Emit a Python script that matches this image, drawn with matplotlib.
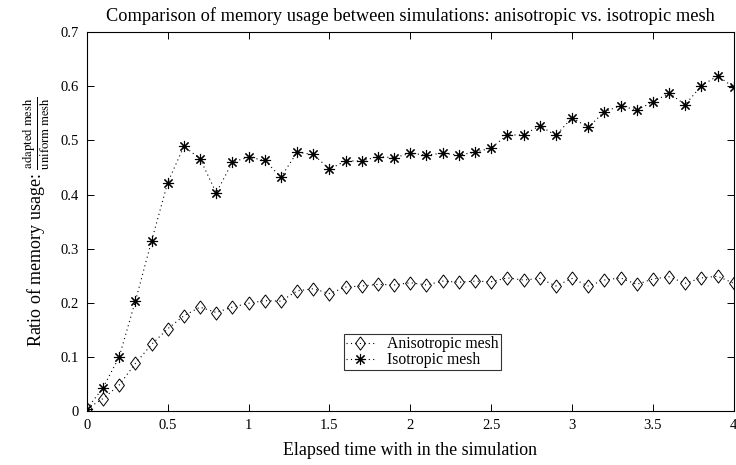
import matplotlib
matplotlib.use("Agg")
import matplotlib.pyplot as plt
import numpy as np

plt.rcParams['font.family'] = ['Liberation Serif', 'DejaVu Serif']
plt.rcParams['mathtext.fontset'] = 'stix'

time = [0.0, 0.1, 0.2, 0.3, 0.4, 0.5, 0.6, 0.7, 0.8, 0.9, 1.0, 1.1, 1.2, 1.3, 1.4,
        1.5, 1.6, 1.7, 1.8, 1.9, 2.0, 2.1, 2.2, 2.3, 2.4, 2.5, 2.6, 2.7, 2.8, 2.9,
        3.0, 3.1, 3.2, 3.3, 3.4, 3.5, 3.6, 3.7, 3.8, 3.9, 4.0]

anisotropic = [0.004, 0.023, 0.048, 0.088, 0.123, 0.152, 0.176, 0.192, 0.182, 0.192,
               0.199, 0.204, 0.203, 0.222, 0.226, 0.217, 0.229, 0.231, 0.234, 0.233,
               0.237, 0.233, 0.240, 0.238, 0.240, 0.239, 0.246, 0.242, 0.245, 0.231,
               0.245, 0.231, 0.242, 0.246, 0.234, 0.244, 0.248, 0.236, 0.246, 0.249,
               0.236]

isotropic = [0.004, 0.043, 0.100, 0.203, 0.314, 0.422, 0.489, 0.466, 0.403, 0.460,
             0.469, 0.463, 0.432, 0.478, 0.474, 0.447, 0.462, 0.462, 0.470, 0.468,
             0.476, 0.473, 0.476, 0.473, 0.478, 0.486, 0.510, 0.510, 0.527, 0.509,
             0.542, 0.524, 0.553, 0.564, 0.556, 0.571, 0.587, 0.566, 0.601, 0.619,
             0.598]

xticks = [0, 0.5, 1, 1.5, 2, 2.5, 3, 3.5, 4]
xticklabels = ['0', '0.5', '1', '1.5', '2', '2.5', '3', '3.5', '4']
yticks = [0, 0.1, 0.2, 0.3, 0.4, 0.5, 0.6, 0.7]
yticklabels = ['0', '0.1', '0.2', '0.3', '0.4', '0.5', '0.6', '0.7']

fig = plt.figure(figsize=(7.36, 4.65), dpi=100)
ax = fig.add_axes([0.118, 0.116, 0.879, 0.815])

dotted = (0, (1, 3))
diamond = [(0, 1), (0.75, 0), (0, -1), (-0.75, 0), (0, 1)]
ax.plot(time, anisotropic, linestyle=dotted, color='black', linewidth=0.8,
        marker=diamond, markersize=9.5, markerfacecolor='none',
        markeredgecolor='black', markeredgewidth=0.7, label='Anisotropic mesh')
ax.plot(time, isotropic, linestyle=dotted, color='black', linewidth=0.8,
        marker=(8, 2, 0), markersize=8, markeredgecolor='black',
        markeredgewidth=0.8, label='Isotropic mesh')

ax.set_xlim(0, 4)
ax.set_ylim(0, 0.7)
ax.set_xticks(xticks)
ax.set_xticklabels(xticklabels)
ax.set_yticks(yticks)
ax.set_yticklabels(yticklabels)
ax.tick_params(direction='in', top=True, right=True, labelsize=10.5,
               length=5, width=0.7, pad=6)
for s in ax.spines.values():
    s.set_linewidth(0.8)

ax.set_title('Comparison of memory usage between simulations: anisotropic vs. isotropic mesh',
             fontsize=13.2, pad=8)
ax.set_xlabel('Elapsed time with in the simulation', fontsize=12.9, labelpad=7)
ax.set_ylabel(r'Ratio of memory usage: $\frac{\mathrm{adapted\ mesh}}{\mathrm{uniform\ mesh}}$',
              fontsize=13, labelpad=6)

leg = ax.legend(loc='lower left', bbox_to_anchor=(0.398, 0.108), fontsize=11.3,
                frameon=True, fancybox=False, edgecolor='black', handlelength=1.8,
                borderpad=0.12, labelspacing=0.0, handletextpad=0.8,
                borderaxespad=0)
leg.get_frame().set_linewidth(0.8)

fig.savefig('out.png', dpi=100)
